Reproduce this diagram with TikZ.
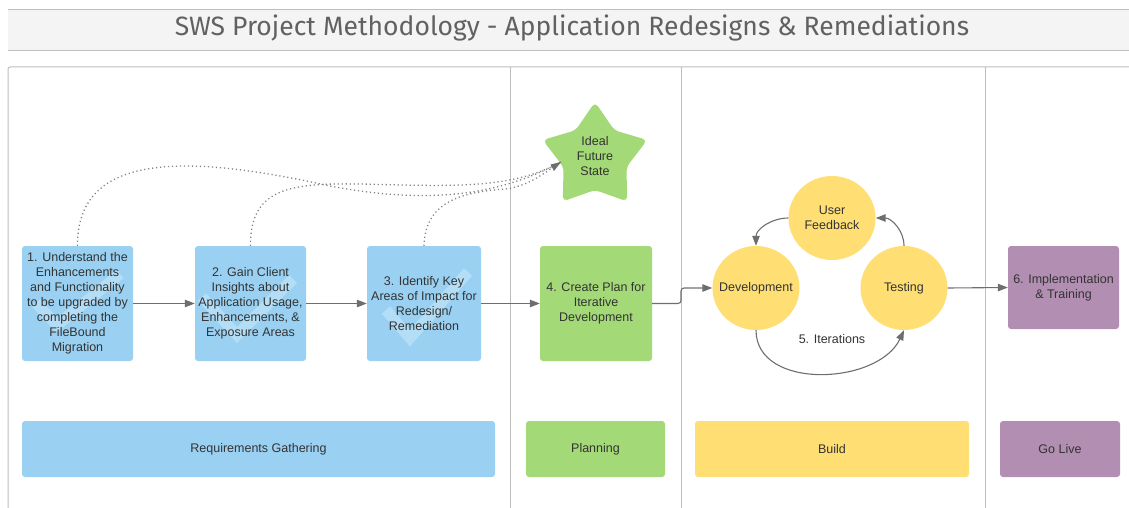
\documentclass[tikz,border=0pt]{standalone}
\usepackage{fontspec}
\setmainfont{Liberation Sans}
\newfontfamily\titlefont{Fira Sans}
\usetikzlibrary{arrows.meta,shapes.geometric}
\definecolor{cblue}{HTML}{9AD1F2}
\definecolor{cchk}{HTML}{B4DEF6}
\definecolor{cgreen}{HTML}{A3D977}
\definecolor{cyel}{HTML}{FFDE74}
\definecolor{cpurp}{HTML}{B28EB3}
\definecolor{ctext}{HTML}{333333}
\definecolor{cline}{HTML}{6E6E6E}
\definecolor{clane}{HTML}{BEBEBE}
\definecolor{cbar}{HTML}{F4F4F4}
\tikzset{
  txt/.style={text=ctext, font=\fontsize{12.5}{15}\selectfont, align=center, inner sep=0pt},
  box/.style={txt, rounded corners=3pt, minimum height=115pt},
  bluebox/.style={box, fill=cblue, minimum width=111pt},
  greenbox/.style={box, fill=cgreen, minimum width=112pt},
  phase/.style={txt, rounded corners=3pt, minimum height=56pt},
  bubble/.style={ellipse, fill=cyel, minimum width=87pt, minimum height=84pt, inner sep=0pt},
  conn/.style={draw=cline, line width=1.1pt, -{Triangle[length=10pt,width=7.5pt]}},
  dots/.style={draw=cline!85, line width=1.3pt, dash pattern=on 1.2pt off 2.8pt},
  chk/.style={draw=cchk, line width=11pt, line join=miter},
}
\begin{document}
\begin{tikzpicture}[x=1pt,y=-1pt]
\useasboundingbox (0,0) rectangle (1129,508);
% title bar
\fill[cbar] (8,10) rectangle (1129,51);
\draw[clane, line width=1pt] (8,10) -- (1129,10);
\draw[clane, line width=1pt] (8,51) -- (1129,51);
\node[font=\titlefont\fontsize{26.5}{30}\selectfont, text=black!62] (title) at (572,28) {SWS Project Methodology - Application Redesigns \& Remediations};
% lanes
\draw[clane, line width=1pt, rounded corners=2pt] (8,510) -- (8,67) -- (1131,67);
\foreach \x in {510,681,985} \draw[clane, line width=1pt] (\x,67) -- (\x,510);
% blue boxes with check marks
\node[bluebox] (b1) at (77.5,303.5) {};
\node[bluebox] (b2) at (250.5,303.5) {};
\node[bluebox, minimum width=114pt] (b3) at (424,303.5) {};
\begin{scope}
\clip[rounded corners=3pt] (b1.south west) rectangle (b1.north east);
\draw[chk] (36,303) -- (57,325) -- (120,274);
\end{scope}
\begin{scope}
\clip[rounded corners=3pt] (b2.south west) rectangle (b2.north east);
\draw[chk] (202,297) -- (237,335) -- (293,279);
\end{scope}
\begin{scope}
\clip[rounded corners=3pt] (b3.south west) rectangle (b3.north east);
\draw[chk] (386,310) -- (410,338) -- (468,272);
\end{scope}
\node[txt] (t1) at (b1) {1. Understand the\\Enhancements\\and Functionality\\to be upgraded by\\completing the\\FileBound\\Migration};
\node[txt] (t2) at (b2) {2. Gain Client\\Insights about\\Application Usage,\\Enhancements, \&\\Exposure Areas};
\node[txt] (t3) at (b3) {3. Identify Key\\Areas of Impact for\\Redesign/\\Remediation};
\node[greenbox] (b4) at (596,303.5) {4. Create Plan for\\Iterative\\Development};
\node[box, fill=cpurp, minimum width=111pt, minimum height=83pt] (b6) at (1063.5,287.5) {6. Implementation\\\& Training};
% star
\fill[cgreen, shift={(595,157)}, rounded corners=5pt] (-90:55) -- (-54:33) -- (-18:55) -- (18:33) -- (54:55) -- (90:33) -- (126:55) -- (162:33) -- (198:55) -- (234:33) -- cycle;
\node[txt] (star) at (595,156) {Ideal\\Future\\State};
\coordinate (st) at (561,162);
% bubbles
\node[bubble] (uf) at (832,218) {};
\node[bubble] (dev) at (756,288) {};
\node[bubble] (test) at (904,288) {};
\node[txt] at (uf) {User\\Feedback};
\node[txt] at (dev) {Development};
\node[txt] at (test) {Testing};
\node[txt] (iter) at (832,339) {5. Iterations};
% phase boxes
\node[phase, fill=cblue, minimum width=473pt] (p1) at (258.5,449) {Requirements Gathering};
\node[phase, fill=cgreen, minimum width=139pt] (p2) at (595.5,449) {Planning};
\node[phase, fill=cyel, minimum width=274pt] (p3) at (832,449) {Build};
\node[phase, fill=cpurp, minimum width=120pt] (p4) at (1060,449) {Go Live};
% connectors
\draw[conn] (b1.east) -- (b2.west);
\draw[conn] (b2.east) -- (b3.west);
\draw[conn] (b3.east) -- (b4.west);
\draw[conn, rounded corners=3pt] (b4.east) -- (681,303.5) -- (681,288) -- (dev.west);
\draw[conn] (test.east) -- (b6.west);
\draw[conn] (uf.west) to[out=180,in=90] (dev.north);
\draw[conn] (test.north) to[out=90,in=0] (uf.east);
\draw[conn] (dev.south) to[out=-90,in=-115, looseness=1.05] (test.south);
% dotted links to the star
\draw[dots] (b1.north) .. controls (77,150) and (190,155) .. (330,186) .. controls (430,205) and (500,195) .. (st);
\draw[dots] (b2.north) .. controls (250,188) and (290,183) .. (360,184) .. controls (450,186) and (510,190) .. (st);
\draw[dots] (b3.north) .. controls (425,200) and (465,192) .. (505,189) .. controls (530,186) and (545,172) .. (st);
\fill[cline] (st) -- ++(-10.5,2.5) -- ++(3.5,6.5) -- cycle;
\end{tikzpicture}
\end{document}
